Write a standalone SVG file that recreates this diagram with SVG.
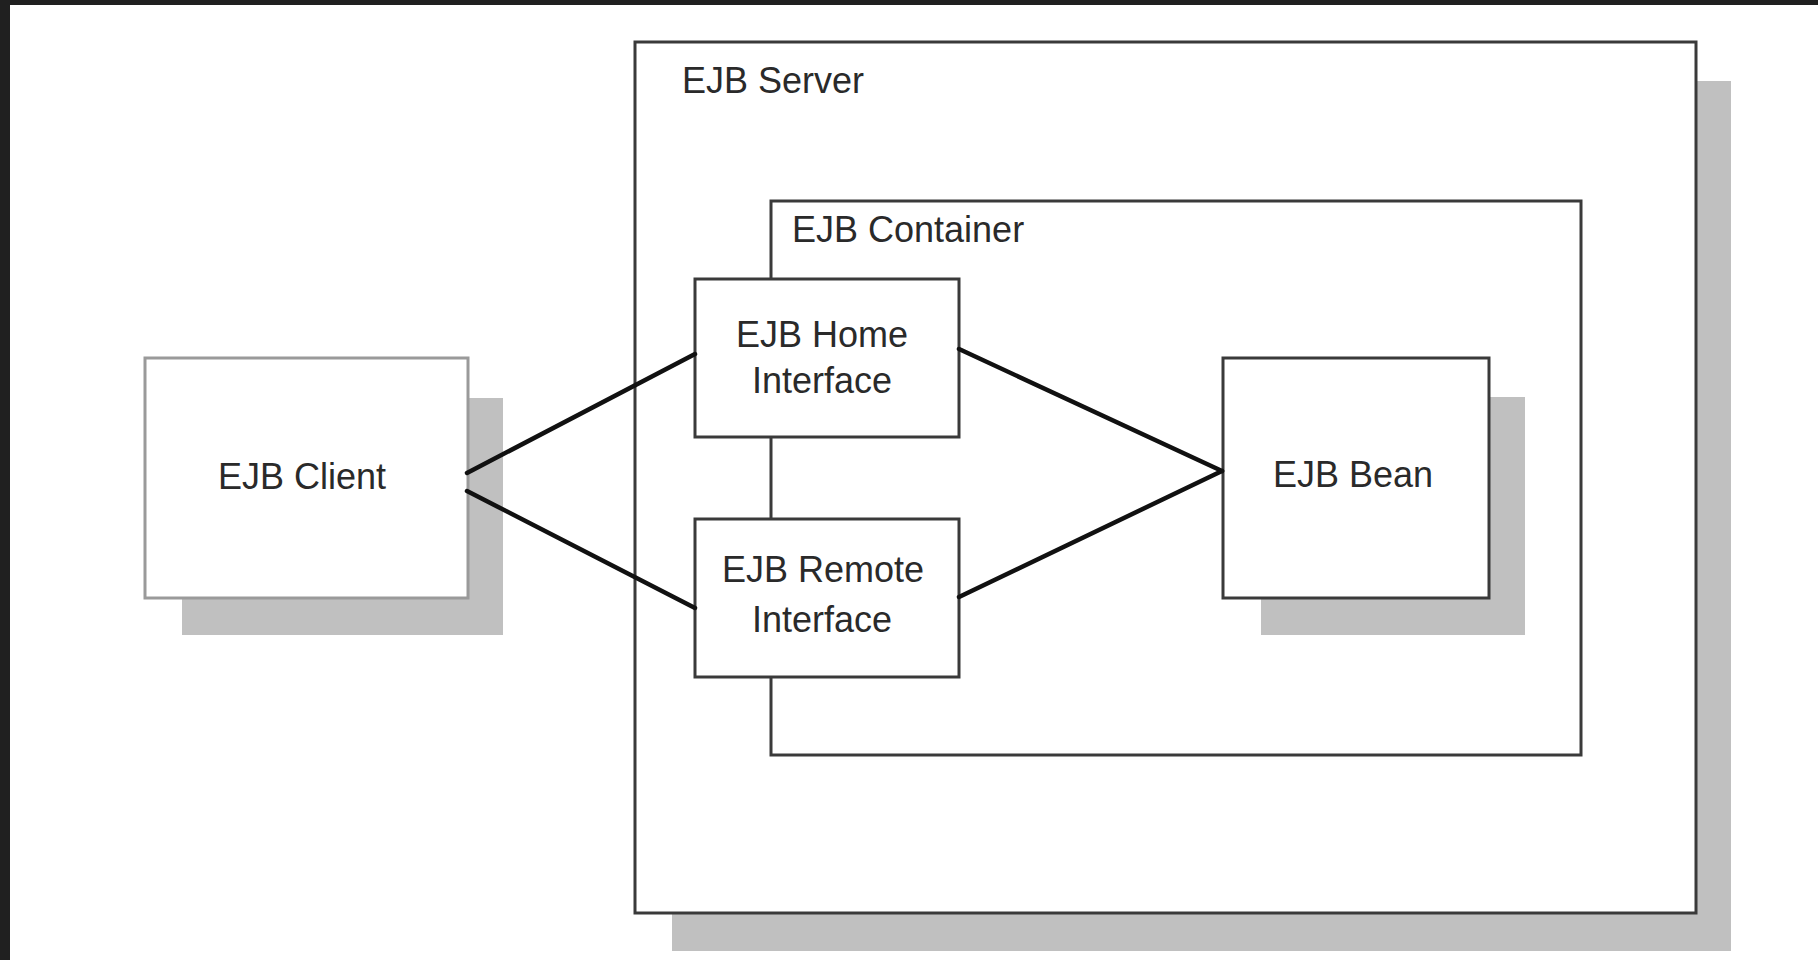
<svg xmlns="http://www.w3.org/2000/svg" width="1818" height="960" viewBox="0 0 1818 960">
  <style>
    .shadow { fill: #c0c0c0; stroke: none; }
    .box { fill: #ffffff; stroke: #3a3a3a; stroke-width: 3; }
    .light { fill: #ffffff; stroke: #9a9a9a; stroke-width: 3; }
    .label { font-family: "Liberation Sans", Arial, sans-serif; font-size: 36px; fill: #2a2a2a; }
    .mid { text-anchor: middle; }
    .link { stroke: #111111; stroke-width: 4.5; fill: none; stroke-linecap: round; }
  </style>

  <!-- page background and dark edge -->
  <rect x="0" y="0" width="1818" height="960" fill="#ffffff"/>
  <rect x="0" y="0" width="1818" height="5" fill="#202020"/>
  <rect x="0" y="0" width="10" height="960" fill="#202020"/>

  <!-- EJB server -->
  <g id="ejb-server">
    <rect class="shadow" x="672" y="81" width="1059" height="870"/>
    <rect class="box" x="635" y="42" width="1061" height="871" stroke="#4a4a4a"/>
    <text class="label" x="682" y="93">EJB Server</text>
  </g>

  <!-- EJB container -->
  <g id="ejb-container">
    <rect class="box" x="771" y="201" width="810" height="554" stroke="#444444"/>
    <text class="label" x="792" y="242">EJB Container</text>
  </g>

  <!-- EJB client -->
  <g id="ejb-client">
    <rect class="shadow" x="182" y="398" width="321" height="237"/>
    <rect class="light" x="145" y="358" width="323" height="240"/>
    <text class="label mid" x="302" y="489">EJB Client</text>
  </g>

  <!-- EJB home interface -->
  <g id="ejb-home-interface">
    <rect class="box" x="695" y="279" width="264" height="158"/>
    <text class="label mid" x="822" y="347">EJB Home</text>
    <text class="label mid" x="822" y="393">Interface</text>
  </g>

  <!-- EJB remote interface -->
  <g id="ejb-remote-interface">
    <rect class="box" x="695" y="519" width="264" height="158"/>
    <text class="label mid" x="823" y="582">EJB Remote</text>
    <text class="label mid" x="822" y="632">Interface</text>
  </g>

  <!-- EJB bean -->
  <g id="ejb-bean">
    <rect class="shadow" x="1261" y="397" width="264" height="238"/>
    <rect class="box" x="1223" y="358" width="266" height="240"/>
    <text class="label mid" x="1353" y="487">EJB Bean</text>
  </g>

  <!-- connectors, drawn last so they run over the client shadow -->
  <g id="connectors">
    <line class="link" x1="467" y1="473" x2="695" y2="354"/>
    <line class="link" x1="467" y1="491" x2="695" y2="608"/>
    <line class="link" x1="959" y1="349" x2="1222" y2="471"/>
    <line class="link" x1="959" y1="597" x2="1222" y2="471"/>
  </g>
</svg>
